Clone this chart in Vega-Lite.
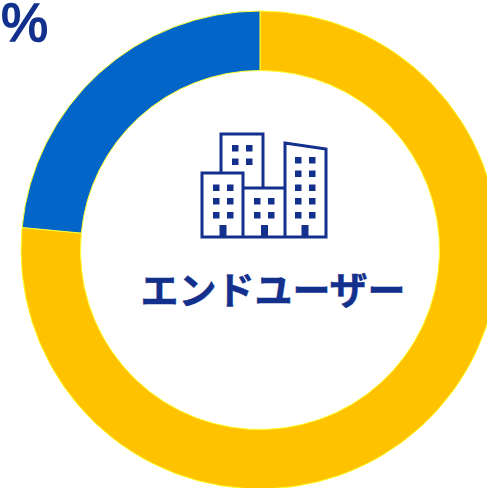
{
"$schema":"https://vega.github.io/schema/vega-lite/v6.json",
"width":487,"height":488,"padding":0,"autosize":{"type":"none"},
"background":"white",
"config":{"view":{"stroke":null}},
"layer":[
{"data":{"values":[{"segment":"エンドユーザー","share":76.5,"rank":1},{"segment":"その他","share":23.5,"rank":2}]},
 "mark":{"type":"arc","radius":239,"radius2":179.5,"xOffset":16.5,"yOffset":6,"stroke":"#FFFF33","strokeWidth":1},
 "encoding":{"theta":{"field":"share","type":"quantitative","stack":true},
 "order":{"field":"rank","type":"ordinal"},
 "color":{"field":"segment","type":"nominal","legend":null,"scale":{"domain":["エンドユーザー","その他"],"range":["#FFC200","#0465C9"]}}}},
{"data":{"values":[{"icon":"buildings"}]},
 "mark":{"type":"point","filled":false,"opacity":1,"stroke":"#12308C","strokeWidth":3,"size":4,"xOffset":20.5,"yOffset":-58.5,
 "shape":"M-62,-12.5H-21V51.5H-62ZM-43,-12.5V-51.5H-1V2.5M-21,2.5H21M21,51.5V-42.5L62,-36.5V51.5ZM-21,51.5H21"},
 "encoding":{}},
{"data":{"values":[{"icon":"windows"}]},
 "mark":{"type":"point","filled":true,"opacity":1,"fill":"#12308C","stroke":null,"size":4,"xOffset":20.5,"yOffset":-58.5,
 "shape":"M-51,-1h6.5v6.5h-6.5zM-37,-1h6.5v6.5h-6.5zM-51,12.5h6.5v6.5h-6.5zM-37,12.5h6.5v6.5h-6.5zM-51,26.5h6.5v6.5h-6.5zM-37,26.5h6.5v6.5h-6.5zM-32,-40.5h6.5v6.5h-6.5zM-18,-40.5h6.5v6.5h-6.5zM-32,-27h6.5v6.5h-6.5zM-18,-27h6.5v6.5h-6.5zM-10,12.5h6.5v6.5h-6.5zM4,12.5h6.5v6.5h-6.5zM-10,26.5h6.5v6.5h-6.5zM4,26.5h6.5v6.5h-6.5zM31,-28.5h6.5v6.5h-6.5zM45,-28.5h6.5v6.5h-6.5zM31,-15h6.5v6.5h-6.5zM45,-15h6.5v6.5h-6.5zM31,-1h6.5v6.5h-6.5zM45,-1h6.5v6.5h-6.5zM31,12.5h6.5v6.5h-6.5zM45,12.5h6.5v6.5h-6.5zM31,26.5h6.5v6.5h-6.5zM45,26.5h6.5v6.5h-6.5zM-44.5,39.5h7v12h-7zM-3,39.5h7v12h-7zM37.5,39.5h7v12h-7z"},
 "encoding":{}},
{"data":{"values":[{"label":"エンドユーザー"}]},
 "mark":{"type":"text","font":"Noto Sans CJK JP","fontWeight":"bold","fontSize":38,"align":"center","baseline":"middle","fill":"#12308C","stroke":"#12308C","strokeWidth":0.5,"xOffset":29.5,"yOffset":49},
 "encoding":{"text":{"field":"label"}}},
{"data":{"values":[{"label":"%"}]},
 "mark":{"type":"text","font":"Liberation Sans","fontSize":53,"align":"center","baseline":"middle","fill":"#12308C","stroke":"#12308C","strokeWidth":1.6,"xOffset":-219,"yOffset":-219.5},
 "encoding":{"text":{"field":"label"}}}
]
}
